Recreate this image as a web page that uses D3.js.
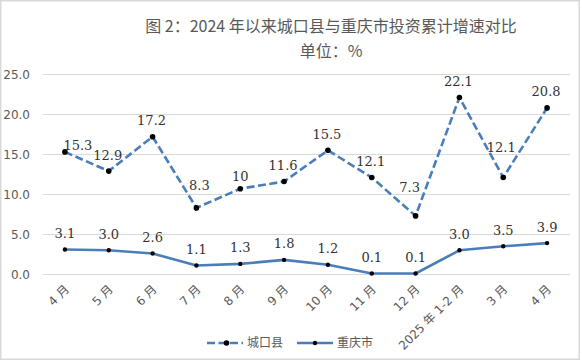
<!DOCTYPE html>
<html>
<head>
<meta charset="utf-8">
<script src="https://cdn.jsdelivr.net/npm/d3@7"></script>
<style>
  body { margin: 0; background: #fff; }
  svg { display: block; }
</style>
</head>
<body>
<div id="chart"></div>
<script>
// categories along the x axis
var months = ["4 月", "5 月", "6 月", "7 月", "8 月", "9 月", "10 月", "11 月", "12 月", "2025 年 1-2 月", "3 月", "4 月"];

// 城口县 (dashed) – point values and the label text shown on the chart
var chengkouValues = [15.3, 12.9, 17.2, 8.3, 10.7, 11.6, 15.5, 12.1, 7.3, 22.1, 12.1, 20.8];
var chengkouLabels = ["15.3", "12.9", "17.2", "8.3", "10", "11.6", "15.5", "12.1", "7.3", "22.1", "12.1", "20.8"];

// 重庆市 (solid)
var chongqingValues = [3.1, 3.0, 2.6, 1.1, 1.3, 1.8, 1.2, 0.1, 0.1, 3.0, 3.5, 3.9];

// y axis ticks
var yTicks = [0, 5, 10, 15, 20, 25];

var W = 582, H = 362;
var blue = "#4a7ebb";
var grey = "#595959";

var svg = d3.select("#chart").append("svg")
    .attr("width", W)
    .attr("height", H);

// outer frame
svg.append("rect")
    .attr("x", 0.75).attr("y", 0.75)
    .attr("width", 578.5).attr("height", 358.5)
    .attr("fill", "#fff")
    .attr("stroke", "#d9d9d9")
    .attr("stroke-width", 1.5);

// title
svg.append("text")
    .attr("x", 331).attr("y", 32)
    .attr("text-anchor", "middle")
    .style("font-family", "'Noto Sans CJK SC', sans-serif")
    .style("font-size", "16px")
    .attr("fill", grey)
    .text("图 2：2024 年以来城口县与重庆市投资累计增速对比");

svg.append("text")
    .attr("x", 331).attr("y", 57)
    .attr("text-anchor", "middle")
    .style("font-family", "'Noto Sans CJK SC', sans-serif")
    .style("font-size", "16px")
    .attr("fill", grey)
    .text("单位：%");

// scales
var x = d3.scalePoint()
    .domain(d3.range(months.length))
    .range([43, 569])
    .padding(0.5);

var y = d3.scaleLinear()
    .domain([0, 25])
    .range([274.3, 74.3]);

// gridlines
svg.append("g")
    .selectAll("line")
    .data(yTicks)
    .join("line")
    .attr("x1", 43).attr("x2", 570)
    .attr("y1", function (d) { return Math.round(y(d)) + 0.5; })
    .attr("y2", function (d) { return Math.round(y(d)) + 0.5; })
    .attr("stroke", "#d9d9d9")
    .attr("stroke-width", 1);

// y axis labels
svg.append("g")
    .selectAll("text")
    .data(yTicks)
    .join("text")
    .attr("x", 30)
    .attr("y", function (d) { return y(d); })
    .attr("dy", "0.35em")
    .attr("text-anchor", "end")
    .style("font-family", "'DejaVu Sans', sans-serif")
    .style("font-size", "12px")
    .attr("fill", grey)
    .text(d3.format(".1f"));

// x axis labels, rotated
svg.append("g")
    .selectAll("text")
    .data(months)
    .join("text")
    .attr("transform", function (d, i) {
        return "translate(" + (x(i) + 2) + ",287) rotate(-45)";
    })
    .attr("text-anchor", "end")
    .attr("dy", "0.35em")
    .style("font-family", "'DejaVu Sans', 'Noto Sans CJK SC', sans-serif")
    .style("font-size", "12px")
    .attr("fill", grey)
    .text(function (d) { return d; });

var line = d3.line()
    .x(function (d, i) { return x(i); })
    .y(function (d) { return y(d); });

// 重庆市 line
svg.append("path")
    .datum(chongqingValues)
    .attr("d", line)
    .attr("fill", "none")
    .attr("stroke", blue)
    .attr("stroke-width", 2.6)
    .attr("stroke-linejoin", "round");

// 城口县 line
svg.append("path")
    .datum(chengkouValues)
    .attr("d", line)
    .attr("fill", "none")
    .attr("stroke", blue)
    .attr("stroke-width", 2.6)
    .attr("stroke-dasharray", "8,3.5");

// markers
svg.append("g")
    .selectAll("circle")
    .data(chongqingValues)
    .join("circle")
    .attr("cx", function (d, i) { return x(i); })
    .attr("cy", function (d) { return y(d); })
    .attr("r", 2.2)
    .attr("fill", "#000");

svg.append("g")
    .selectAll("circle")
    .data(chengkouValues)
    .join("circle")
    .attr("cx", function (d, i) { return x(i); })
    .attr("cy", function (d) { return y(d); })
    .attr("r", 2.8)
    .attr("fill", "#000");

// data labels – some 城口县 labels were moved by hand in the original
var nudge = { 0: [13, -1.7], 3: [3, -17.7], 4: [0, -8], 8: [-6, -24], 10: [-2, -26] };

var labelFont = "'DejaVu Serif', serif";

svg.append("g")
    .selectAll("text")
    .data(chengkouValues)
    .join("text")
    .attr("x", function (d, i) { return x(i) + (nudge[i] ? nudge[i][0] : -1); })
    .attr("y", function (d, i) { return y(d) + (nudge[i] ? nudge[i][1] : -11.5); })
    .attr("text-anchor", "middle")
    .style("font-family", labelFont)
    .style("font-size", "13px")
    .attr("fill", "#333")
    .text(function (d, i) { return chengkouLabels[i]; });

svg.append("g")
    .selectAll("text")
    .data(chongqingValues)
    .join("text")
    .attr("x", function (d, i) { return x(i); })
    .attr("y", function (d) { return y(d) - 11.5; })
    .attr("text-anchor", "middle")
    .style("font-family", labelFont)
    .style("font-size", "13px")
    .attr("fill", "#333")
    .text(d3.format(".1f"));

// legend
var legend = svg.append("g").attr("transform", "translate(0,343)");

legend.append("line")
    .attr("x1", 207).attr("x2", 243)
    .attr("stroke", blue).attr("stroke-width", 2.6)
    .attr("stroke-dasharray", "8,3.5");
legend.append("circle").attr("cx", 226.5).attr("r", 2.8).attr("fill", "#000");
legend.append("text")
    .attr("x", 247).attr("dy", "0.35em")
    .style("font-family", "'Noto Sans CJK SC', sans-serif")
    .style("font-size", "12px")
    .attr("fill", grey)
    .text("城口县");

legend.append("line")
    .attr("x1", 297).attr("x2", 333)
    .attr("stroke", blue).attr("stroke-width", 2.6);
legend.append("circle").attr("cx", 315).attr("r", 2.2).attr("fill", "#000");
legend.append("text")
    .attr("x", 337).attr("dy", "0.35em")
    .style("font-family", "'Noto Sans CJK SC', sans-serif")
    .style("font-size", "12px")
    .attr("fill", grey)
    .text("重庆市");
</script>
</body>
</html>
